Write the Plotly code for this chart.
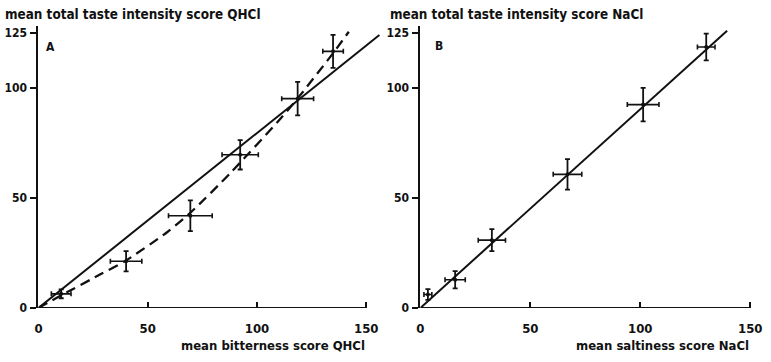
import plotly.graph_objects as go

W, H = 771, 362

# ---------------- data ----------------
# Panel A: QHCl
a_bitter = [10.4, 40.1, 69.5, 92.3, 118.6, 134.8]
a_bitter_err = [4.5, 7.2, 10.0, 8.3, 7.3, 4.7]
a_total = [6.4, 21.2, 41.9, 69.6, 95.1, 116.6]
a_total_err = [2.0, 4.6, 7.0, 6.7, 7.6, 7.5]
a_fit_x = [0, 156]
a_fit_y = [0, 124]
a_curve_x = [0, 10, 29, 40, 59, 70, 88, 110, 118, 135, 142]
a_curve_y = [0, 5.5, 15.6, 21.5, 34.5, 43.7, 61.5, 85.2, 94.5, 116, 125.5]

# Panel B: NaCl
b_salt = [3.4, 15.8, 32.5, 66.9, 101.3, 130.0]
b_salt_err = [1.8, 4.6, 6.2, 6.5, 7.2, 4.0]
b_total = [6.1, 12.8, 30.8, 60.7, 92.4, 118.6]
b_total_err = [2.4, 3.9, 5.0, 6.9, 7.6, 6.1]
b_fit_x = [0, 139.5]
b_fit_y = [0, 126]

tick_vals_x = [0, 50, 100, 150]
tick_vals_y = [0, 50, 100, 125]

FONT = "DejaVu Sans Condensed, DejaVu Sans, sans-serif"
BLACK = "#111111"


def px(x):
    return x / W


def py(y):
    return 1 - y / H


fig = go.Figure()


def add_points(xs, xe, ys, ye, xa, ya):
    fig.add_trace(go.Scatter(
        x=xs, y=ys, mode="markers", xaxis=xa, yaxis=ya,
        marker=dict(color=BLACK, size=4),
        error_x=dict(type="data", array=xe, color=BLACK, thickness=1.6, width=2.5),
        error_y=dict(type="data", array=ye, color=BLACK, thickness=1.8, width=2.5),
        showlegend=False, hoverinfo="skip"))


# Panel A
fig.add_trace(go.Scatter(x=a_fit_x, y=a_fit_y, mode="lines", xaxis="x", yaxis="y",
                         line=dict(color=BLACK, width=2), showlegend=False))
fig.add_trace(go.Scatter(x=a_curve_x, y=a_curve_y, mode="lines", xaxis="x", yaxis="y",
                         line=dict(color=BLACK, width=2.3, dash="10px,6px", shape="spline",
                                   smoothing=0.6),
                         showlegend=False))
add_points(a_bitter, a_bitter_err, a_total, a_total_err, "x", "y")

# Panel B
fig.add_trace(go.Scatter(x=b_fit_x, y=b_fit_y, mode="lines", xaxis="x2", yaxis="y2",
                         line=dict(color=BLACK, width=2), showlegend=False))
add_points(b_salt, b_salt_err, b_total, b_total_err, "x2", "y2")

# ---------------- axes ----------------
y_dom = [py(314), py(26.8)]
y_range = [0, 128]

xa_common = dict(showgrid=False, zeroline=False, showline=False,
                 tickmode="array", tickvals=tick_vals_x, ticks="inside", ticklen=6,
                 tickwidth=1.5, tickcolor=BLACK, ticklabelstandoff=11,
                 tickfont=dict(family=FONT, size=13, color=BLACK, weight="bold"))
ya_common = dict(showgrid=False, zeroline=False, showline=True, linecolor=BLACK,
                 linewidth=2, range=y_range, domain=y_dom,
                 tickmode="array", tickvals=tick_vals_y, ticks="outside", ticklen=6,
                 tickwidth=1.5, tickcolor=BLACK, ticklabelstandoff=1,
                 tickfont=dict(family=FONT, size=12, color=BLACK, weight="bold"))

# A: 0 at 35px, 150 at 368px
a_scale = (368 - 35) / 150
a_max = 157
fig.update_layout(
    xaxis=dict(domain=[px(35), px(35 + a_scale * a_max)], range=[0, a_max], anchor="y",
               **xa_common),
    yaxis=dict(anchor="x", **ya_common),
)
# B: 0 at 423px, 150 at 758px
b_scale = (758 - 423) / 150
b_max = 152
fig.update_layout(
    xaxis2=dict(domain=[px(423), px(423 + b_scale * b_max)], range=[0, b_max], anchor="y2",
                **xa_common),
    yaxis2=dict(anchor="x2", **ya_common),
)

# x axis lines (ending at 150)
for xr, yr in (("x", "y"), ("x2", "y2")):
    fig.add_shape(type="line", xref=xr, yref=yr, x0=0, x1=150, y0=0, y1=0,
                  line=dict(color=BLACK, width=2))

# ---------------- text ----------------
def ann(text, x, y, xanchor="left", size=13):
    fig.add_annotation(text=text, x=px(x), y=py(y), xref="paper", yref="paper",
                       xanchor=xanchor, yanchor="middle", showarrow=False,
                       font=dict(family=FONT, size=size, color=BLACK, weight="bold"))


ann("mean total taste intensity score QHCl", -1, 15, size=13.4)
ann("mean total taste intensity score NaCl", 390, 15, size=13.4)
ann("A", 47, 48, "center", 12)
ann("B", 442, 47, "center", 12)
ann("mean bitterness score QHCl", 369, 352, "right")
ann("mean saltiness score NaCl", 759, 352, "right")

fig.update_layout(width=W, height=H, margin=dict(l=0, r=0, t=0, b=0),
                  paper_bgcolor="white", plot_bgcolor="white")

fig.write_html("out.html")
